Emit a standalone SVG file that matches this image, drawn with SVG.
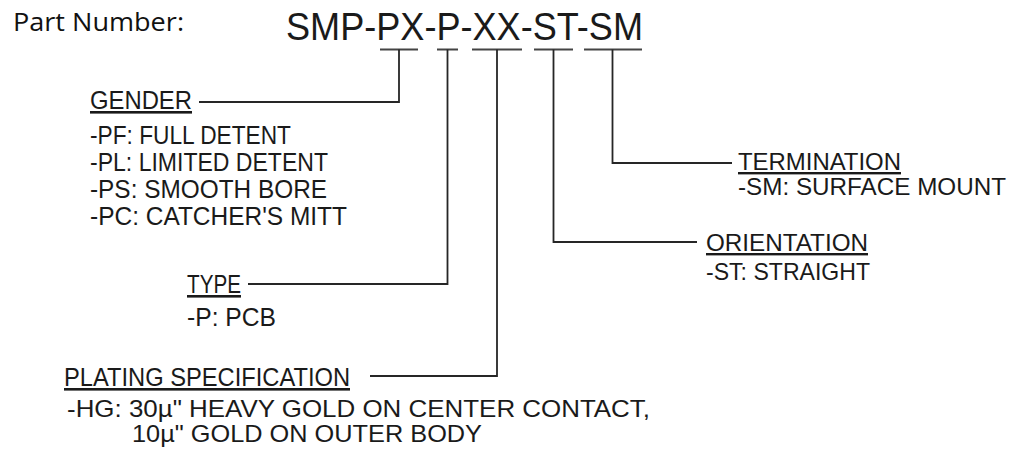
<svg xmlns="http://www.w3.org/2000/svg" width="1018" height="451" viewBox="0 0 1018 451">
  <style>
    .t { font-family: "Liberation Sans", Arial, sans-serif; fill: #1a1a1a; }
    .u { text-decoration: underline; }
    .pn { font-family: "Liberation Sans", Arial, sans-serif; font-size: 39px; fill: #1a1a1a; }
    .c { fill: none; stroke: #262626; stroke-width: 1.8; }
    .bar { fill: none; stroke: #444; stroke-width: 1.8; }
  </style>
  <rect width="1018" height="451" fill="#ffffff"/>

  <g id="title">
    <text x="13" y="31" font-family="'Open Sans', 'Liberation Sans', sans-serif" font-size="25" fill="#111" textLength="171" lengthAdjust="spacingAndGlyphs">Part Number:</text>
  </g>

  <g id="part-number">
    <text class="pn" x="286" y="40" textLength="357" lengthAdjust="spacingAndGlyphs">SMP-PX-P-XX-ST-SM</text>
  </g>

  <g id="connectors">
    <path class="bar" d="M380 49.5H418 M437 49.5H458 M472 49.5H522 M534 49.5H573 M584 49.5H642"/>
    <path class="c" d="M399 49.5V102H199"/>
    <path class="c" d="M447.5 49.5V284H248"/>
    <path class="c" d="M497 49.5V376H370"/>
    <path class="c" d="M553.5 49.5V242H697"/>
    <path class="c" d="M612.5 49.5V163H732"/>
  </g>

  <g id="gender">
    <text class="t u" x="90" y="109" font-size="26" textLength="102" lengthAdjust="spacingAndGlyphs">GENDER</text>
    <text class="t" x="90" y="144" font-size="25" textLength="201" lengthAdjust="spacingAndGlyphs">-PF: FULL DETENT</text>
    <text class="t" x="90" y="171" font-size="25" textLength="238" lengthAdjust="spacingAndGlyphs">-PL: LIMITED DETENT</text>
    <text class="t" x="90" y="198" font-size="25" textLength="237" lengthAdjust="spacingAndGlyphs">-PS: SMOOTH BORE</text>
    <text class="t" x="90" y="225" font-size="25" textLength="257" lengthAdjust="spacingAndGlyphs">-PC: CATCHER'S MITT</text>
  </g>

  <g id="type">
    <text class="t u" x="187" y="293" font-size="26" textLength="54" lengthAdjust="spacingAndGlyphs">TYPE</text>
    <text class="t" x="187" y="326" font-size="25" textLength="89" lengthAdjust="spacingAndGlyphs">-P: PCB</text>
  </g>

  <g id="plating">
    <text class="t u" x="64" y="386" font-size="26" textLength="286" lengthAdjust="spacingAndGlyphs">PLATING SPECIFICATION</text>
    <text class="t" x="67" y="417" font-size="24" textLength="583" lengthAdjust="spacingAndGlyphs">-HG: 30µ" HEAVY GOLD ON CENTER CONTACT,</text>
    <text class="t" x="132" y="442" font-size="24" textLength="350" lengthAdjust="spacingAndGlyphs">10µ" GOLD ON OUTER BODY</text>
  </g>

  <g id="termination">
    <text class="t u" x="738" y="170" font-size="24" textLength="163" lengthAdjust="spacingAndGlyphs">TERMINATION</text>
    <text class="t" x="738" y="195" font-size="24" textLength="268" lengthAdjust="spacingAndGlyphs">-SM: SURFACE MOUNT</text>
  </g>

  <g id="orientation">
    <text class="t u" x="706" y="251" font-size="24" textLength="162" lengthAdjust="spacingAndGlyphs">ORIENTATION</text>
    <text class="t" x="706" y="280" font-size="24" textLength="164" lengthAdjust="spacingAndGlyphs">-ST: STRAIGHT</text>
  </g>
</svg>
